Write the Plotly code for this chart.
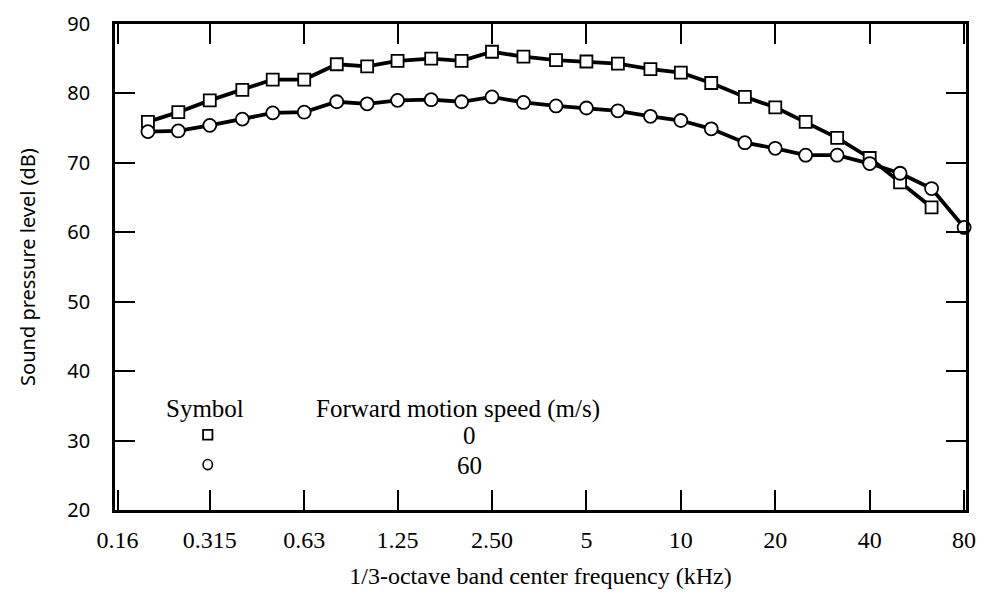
import math
import plotly.graph_objects as go

# 1/3-octave band center frequencies (kHz)
freq = [0.2, 0.25, 0.315, 0.4, 0.5, 0.63, 0.8, 1.0, 1.25, 1.6, 2.0, 2.5, 3.15, 4.0,
        5.0, 6.3, 8.0, 10, 12.5, 16, 20, 25, 31.5, 40, 50, 63, 80]

# sound pressure level (dB), forward speed 0 m/s (squares) - no point at 80 kHz
spl_0 = [75.9, 77.3, 79.0, 80.5, 82.0, 82.0, 84.2, 83.9, 84.7, 85.0, 84.7, 86.0, 85.3,
         84.8, 84.6, 84.3, 83.5, 83.0, 81.5, 79.5, 78.0, 75.9, 73.6, 70.7, 67.2, 63.6]

# forward speed 60 m/s (circles)
spl_60 = [74.5, 74.6, 75.4, 76.3, 77.2, 77.3, 78.8, 78.5, 79.0, 79.1, 78.8, 79.5, 78.7,
          78.2, 77.9, 77.5, 76.7, 76.1, 74.9, 72.9, 72.1, 71.1, 71.1, 69.9, 68.5, 66.3, 60.7]

xtick_vals = [0.16, 0.315, 0.63, 1.25, 2.5, 5, 10, 20, 40, 80]
xtick_text = ["0.16", "0.315", "0.63", "1.25", "2.50", "5", "10", "20", "40", "80"]
ytick_vals = [20, 30, 40, 50, 60, 70, 80, 90]

serif = "Liberation Serif"
sans = "Noto Sans"
txt = dict(family=serif, size=24, color="black")

fig = go.Figure()
fig.add_trace(go.Scatter(
    x=freq[:len(spl_0)], y=spl_0, mode="lines+markers",
    line=dict(color="black", width=3.8),
    marker=dict(symbol="square", size=12, color="white", line=dict(color="black", width=1.8)),
    cliponaxis=False, showlegend=False))
fig.add_trace(go.Scatter(
    x=freq, y=spl_60, mode="lines+markers",
    line=dict(color="black", width=3.8),
    marker=dict(symbol="circle", size=13, color="white", line=dict(color="black", width=1.8)),
    cliponaxis=False, showlegend=False))

# legend drawn as text block inside the plot
for x, y, t in [(0.106, 0.208, "Symbol"), (0.403, 0.208, "Forward motion speed (m/s)"),
                (0.416, 0.153, "0"), (0.416, 0.091, "60")]:
    fig.add_annotation(x=x, y=y, xref="paper", yref="paper", text=t, showarrow=False,
                       xanchor="center", yanchor="middle",
                       font=dict(family=serif, size=25, color="black"))
fig.add_shape(type="rect", xref="paper", yref="paper",
              x0=0.1035, x1=0.1145, y0=0.145, y1=0.165, line=dict(color="black", width=1.8))
fig.add_shape(type="circle", xref="paper", yref="paper",
              x0=0.1035, x1=0.1145, y0=0.083, y1=0.104, line=dict(color="black", width=1.6))

fig.update_xaxes(
    type="log", range=[math.log10(0.16) - 0.008, math.log10(80) + 0.006],
    tickvals=xtick_vals, ticktext=xtick_text, automargin=False, ticklabeloverflow="allow",
    ticks="inside", ticklen=20, tickwidth=2, tickcolor="black", ticklabelstandoff=6,
    showline=True, linewidth=2.5, linecolor="black", mirror="allticks",
    showgrid=False, zeroline=False,
    tickfont=txt,
    title=dict(text="1/3-octave band center frequency (kHz)", font=txt, standoff=16))
fig.update_yaxes(
    range=[20, 90], tickvals=ytick_vals, automargin=False, ticklabeloverflow="allow",
    ticks="inside", ticklen=20, tickwidth=2, tickcolor="black", ticklabelstandoff=18,
    showline=True, linewidth=2.5, linecolor="black", mirror="allticks",
    showgrid=False, zeroline=False,
    tickfont=dict(family=sans, size=20, color="black"),
    title=dict(text="Sound pressure level (dB)",
               font=dict(family=sans, size=20, color="black"), standoff=27))

# page body adds an 8px offset, so the figure is a little smaller than the window
fig.update_layout(
    width=976, height=590,
    margin=dict(l=107, r=18, t=16, b=88),
    paper_bgcolor="white", plot_bgcolor="white")

fig.write_html("out.html")
